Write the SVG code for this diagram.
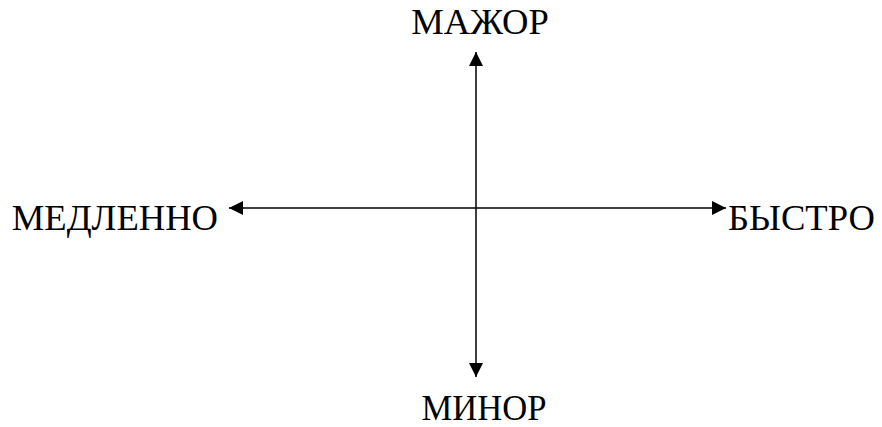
<svg xmlns="http://www.w3.org/2000/svg" width="882" height="427" viewBox="0 0 882 427">
<style>
.t{font-family:"Liberation Serif","Times New Roman",serif;font-size:36.6px;fill:#000}
.a{stroke:#000;stroke-width:1.5;fill:none}
</style>
<defs>
<marker id="ah" viewBox="0 0 10 10" refX="10" refY="5" markerWidth="15" markerHeight="14" markerUnits="userSpaceOnUse" orient="auto">
<path d="M0,0 L10,5 L0,10 Z" fill="#000"/>
</marker>
</defs>
<rect width="882" height="427" fill="#fff"/>
<g id="connectors">
<line class="a" x1="476" y1="208" x2="476" y2="52" marker-end="url(#ah)"/>
<line class="a" x1="476" y1="208" x2="476" y2="377" marker-end="url(#ah)"/>
<line class="a" x1="476" y1="208" x2="229" y2="208" marker-end="url(#ah)"/>
<line class="a" x1="476" y1="208" x2="726" y2="208" marker-end="url(#ah)"/>
</g>
<g id="major"><text class="t" x="480" y="34" text-anchor="middle">МАЖОР</text></g>
<g id="minor"><text class="t" x="484" y="420" text-anchor="middle" textLength="125" lengthAdjust="spacingAndGlyphs">МИНОР</text></g>
<g id="slow"><text class="t" x="218" y="230" text-anchor="end">МЕДЛЕННО</text></g>
<g id="fast"><text class="t" x="728" y="230">БЫСТРО</text></g>
</svg>
